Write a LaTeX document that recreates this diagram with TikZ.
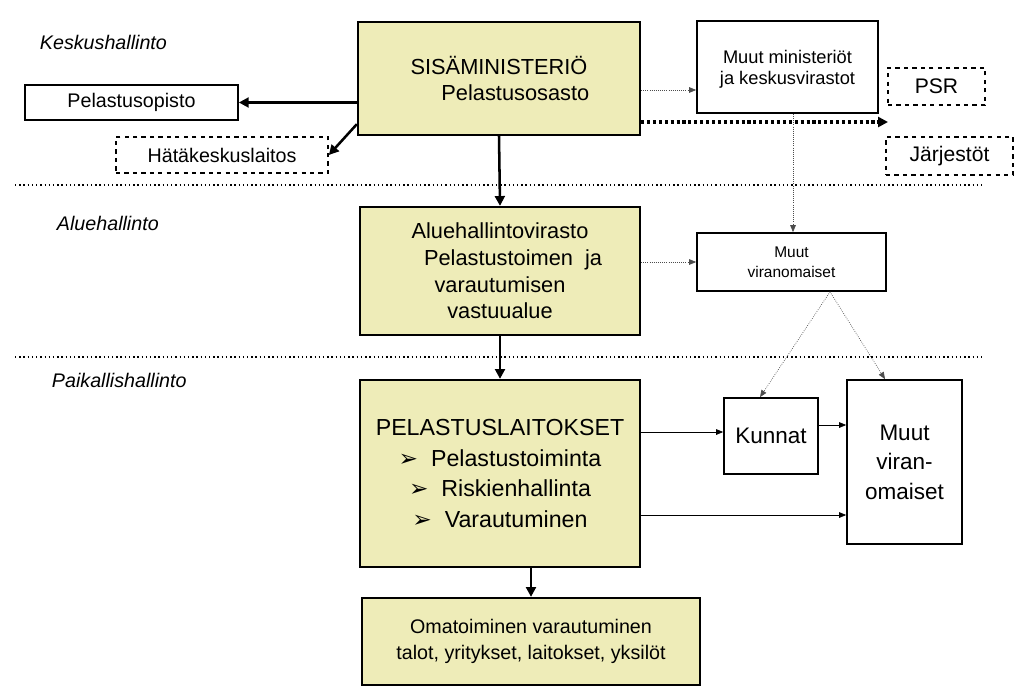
\documentclass[tikz,border=0pt]{standalone}
\usepackage{fontspec}
\setmainfont{Liberation Sans}
\newfontfamily\dingfont{DejaVu Sans}
\usetikzlibrary{arrows.meta}
\definecolor{boxyellow}{RGB}{238,236,184}
\newcommand{\arrowbullet}{{\dingfont ➢}\ \ }
\tikzset{
    % boxes
    main-box/.style={
        draw=black,
        line width=1.6pt,
        fill=boxyellow,
        align=center,
        inner sep=0pt,
        font=\fontsize{15.5}{19}\selectfont
    },
    side-box/.style={
        draw=black,
        line width=1.2pt,
        fill=white,
        align=center,
        inner sep=0pt,
        font=\fontsize{13}{15}\selectfont
    },
    side-dashed/.style={
        side-box,
        dashed
    },
    level-name/.style={
        font=\itshape\fontsize{14}{16}\selectfont,
        anchor=west
    },
    % arrows
    strong-arrow/.style={
        line width=1.8pt,
        -{Triangle[length=7pt,width=7pt]}
    },
    thin-arrow/.style={
        line width=0.5pt,
        -{Triangle[length=5pt,width=4pt]}
    },
    dotted-arrow/.style={
        thin-arrow,
        densely dotted,
        color=black!70
    },
    heavy-dotted/.style={
        line width=2.2pt,
        dotted,
        -{Triangle[length=7pt,width=7pt]}
    },
    separator/.style={
        line width=1pt,
        dotted
    }
}

\begin{document}
\begin{tikzpicture}[x=0.025cm, y=-0.025cm]

        \useasboundingbox (0, 0) rectangle (1024, 699);

        % main column
        \node [main-box, minimum width=282*0.025cm, minimum height=113*0.025cm] (ministry) at (499, 78.5) {SISÄMINISTERIÖ\\\hspace*{1.5em}Pelastusosasto};
        \node [main-box, minimum width=280*0.025cm, minimum height=128*0.025cm] (regional) at (500, 271) {Aluehallintovirasto\\\hspace*{1.2em}Pelastustoimen\ \ ja\\varautumisen\\vastuualue};
        \node [main-box, minimum width=280*0.025cm, minimum height=187*0.025cm, font=\fontsize{16.5}{22}\selectfont] (rescue) at (500, 473.5) {PELASTUSLAITOKSET\\\arrowbullet Pelastustoiminta\\\arrowbullet Riskienhallinta\\\arrowbullet Varautuminen};
        \node [main-box, minimum width=338*0.025cm, minimum height=87*0.025cm, font=\fontsize{14}{18}\selectfont] (self) at (531, 641.5) {Omatoiminen varautuminen\\talot, yritykset, laitokset, yksilöt};

        % side boxes
        \node [side-box, minimum width=213*0.025cm, minimum height=35*0.025cm, font=\fontsize{14}{16}\selectfont] (academy) at (131.5, 102.5) {Pelastusopisto};
        \node [side-dashed, minimum width=212*0.025cm, minimum height=36*0.025cm, font=\fontsize{14}{16}\selectfont] (emergency) at (222, 155) {Hätäkeskuslaitos};
        \node [side-box, minimum width=181*0.025cm, minimum height=92*0.025cm, text depth=-30*0.025cm] (ministries) at (787.5, 67) {Muut ministeriöt\\ja keskusvirastot};
        \node [side-dashed, minimum width=97*0.025cm, minimum height=37*0.025cm, font=\fontsize{15}{17}\selectfont] (psr) at (936.5, 86.5) {PSR};
        \node [side-dashed, minimum width=127*0.025cm, minimum height=38*0.025cm, font=\fontsize{15}{17}\selectfont] (ngo) at (949.5, 156) {Järjestöt};
        \node [side-box, minimum width=189*0.025cm, minimum height=58*0.025cm, font=\fontsize{11}{14}\selectfont] (authorities) at (791.5, 262) {Muut\\viranomaiset};
        \node [side-box, minimum width=94*0.025cm, minimum height=76*0.025cm, font=\fontsize{16}{19}\selectfont] (municipal) at (771, 436) {Kunnat};
        \node [side-box, minimum width=115*0.025cm, minimum height=164*0.025cm, font=\fontsize{16}{21}\selectfont] (local-auth) at (904.5, 462) {Muut\\viran-\\omaiset};

        % names
        \node [level-name] (central) at (35, 42) {Keskushallinto};
        \node [level-name] (region) at (52, 223) {Aluehallinto};
        \node [level-name] (local) at (47, 380) {Paikallishallinto};

        % separators
        \draw [separator] (15, 185) -- (985, 185);
        \draw [separator] (15, 357) -- (985, 357);

        % strong edges
        \draw [strong-arrow] (ministry.west |- academy) -- (academy.east);
        \draw [strong-arrow] ([yshift=12*0.025cm]ministry.south west) -- (emergency.east);
        \draw [strong-arrow] (ministry.south) -- (regional.north);
        \draw [strong-arrow] (regional.south) -- (rescue.north);
        \draw [strong-arrow] (rescue.south -| self.north) -- (self.north);

        % dotted edges
        \draw [dotted-arrow] (ministry.east |- 0, 90) -- (ministries.west |- 0, 90);
        \draw [heavy-dotted] (ministry.east |- 0, 122) -- (888, 122);
        \draw [dotted-arrow] (ministries.south -| 793, 0) -- (authorities.north -| 793, 0);
        \draw [dotted-arrow] (regional.east |- authorities) -- (authorities.west);
        \draw [dotted-arrow] (authorities.south -| 830, 0) -- (municipal.north -| 760, 0);
        \draw [dotted-arrow] (authorities.south -| 830, 0) -- (local-auth.north -| 885, 0);

        % thin edges
        \draw [thin-arrow] (rescue.east |- 0, 432) -- (municipal.west |- 0, 432);
        \draw [thin-arrow] (municipal.east |- 0, 425) -- (local-auth.west |- 0, 425);
        \draw [thin-arrow] (rescue.east |- 0, 515) -- (local-auth.west |- 0, 515);

    \end{tikzpicture}
\end{document}
